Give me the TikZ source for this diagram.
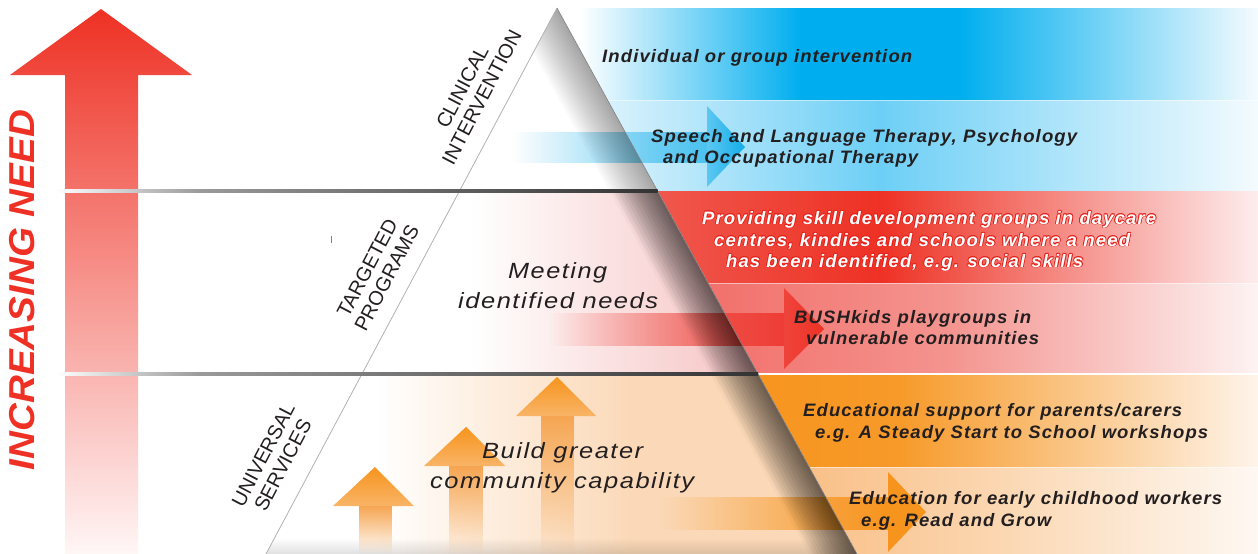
\documentclass[tikz,border=0pt]{standalone}
\usepackage{fontspec}
\setmainfont{Liberation Sans}
\newfontfamily\trk[LetterSpace=6]{Liberation Sans}
\usepackage{graphicx}
\usetikzlibrary{fadings}
\definecolor{txt}{HTML}{231F20}
\definecolor{cyanA}{HTML}{00AEEF}
\definecolor{cyanW}{HTML}{F5FBFE}
\definecolor{cyanP}{HTML}{E3F5FD}
\definecolor{cyanM}{HTML}{6DCFF6}
\definecolor{cyanE}{HTML}{F4FBFE}
\definecolor{cyanS}{HTML}{4CC2F0}
\definecolor{cyanH}{HTML}{5CC7F1}
\definecolor{cyanT}{HTML}{12ADEA}
\definecolor{redA}{HTML}{EE3124}
\definecolor{redO}{HTML}{E4221B}
\definecolor{redL}{HTML}{F05A50}
\definecolor{redW}{HTML}{FDEDED}
\definecolor{pinkA}{HTML}{F26E69}
\definecolor{pinkB}{HTML}{F4948F}
\definecolor{pinkW}{HTML}{FDF3F3}
\definecolor{pinkI}{HTML}{F6C2C2}
\definecolor{redM}{HTML}{F4827D}
\definecolor{redBot}{HTML}{FFF6F6}
\definecolor{redS}{HTML}{EE3D35}
\definecolor{redH}{HTML}{EF443B}
\definecolor{orgA}{HTML}{F7941D}
\definecolor{orgB}{HTML}{F79A2A}
\definecolor{orgW}{HTML}{FEF4EA}
\definecolor{orgL}{HTML}{F9BE84}
\definecolor{orgM}{HTML}{FBD7B2}
\definecolor{orgE}{HTML}{FEF8F2}
\definecolor{orgI}{HTML}{FBD9B8}
\definecolor{orgU}{HTML}{F8B467}
\definecolor{orgS}{HTML}{F6A652}
\definecolor{divA}{HTML}{9A9A9A}
\definecolor{divB}{HTML}{333333}
\definecolor{tick}{HTML}{A08040}
\newcommand\fw[2]{\resizebox{#1pt}{\height}{#2}}
\newcommand\outl[1]{\leavevmode
\rlap{\textcolor{redO}{\hspace*{-.8pt}#1}}%
\rlap{\textcolor{redO}{\hspace*{.8pt}#1}}%
\rlap{\textcolor{redO}{\raisebox{.8pt}{#1}}}%
\rlap{\textcolor{redO}{\raisebox{-.8pt}{#1}}}%
\rlap{\textcolor{redO}{\hspace*{-.6pt}\raisebox{.6pt}{#1}}}%
\rlap{\textcolor{redO}{\hspace*{.6pt}\raisebox{.6pt}{#1}}}%
\rlap{\textcolor{redO}{\hspace*{-.6pt}\raisebox{-.6pt}{#1}}}%
\rlap{\textcolor{redO}{\hspace*{.6pt}\raisebox{-.6pt}{#1}}}%
\textcolor{white}{#1}}
\begin{document}
\begin{tikzpicture}[x=1pt,y=-1pt,
  rt/.style={inner sep=0pt, anchor=base west, text=txt, font=\trk\fontsize{18}{20}\selectfont\bfseries\itshape},
  mt/.style={inner sep=0pt, anchor=base west, text=txt, font=\trk\fontsize{22}{24}\selectfont\itshape},
  tl/.style={inner sep=0pt, rotate=62.4, align=center, text=txt, font=\fontsize{20}{22}\selectfont},
  sep/.style={white, opacity=0.5, line width=0.8pt}]
\useasboundingbox (0,0) rectangle (1258,554);
\clip (0,0) rectangle (1258,554);
\fill[white] (0,0) rectangle (1258,554);
\coordinate (A) at (557,8);
\coordinate (BR) at (857,554);
\coordinate (BL) at (266,554);
% ---- right bands ----
\shade[left color=white, right color=cyanA] (580,8) rectangle (800.5,100);
\fill[cyanA] (800,8) rectangle (960.5,100);
\shade[left color=cyanA, right color=cyanW] (960,8) rectangle (1258,100);
\shade[left color=cyanP, right color=cyanM] (580,100) rectangle (880.5,191);
\shade[left color=cyanM, right color=cyanE] (880,100) rectangle (1258,191);
\shade[left color=redL, right color=redA] (640,191) rectangle (880.5,283);
\shade[left color=redA, right color=redW] (880,191) rectangle (1258,283);
\shade[left color=pinkA, right color=pinkB] (690,283) rectangle (950.5,374);
\shade[left color=pinkB, right color=pinkW] (950,283) rectangle (1258,374);
\shade[left color=orgA, right color=orgB] (740,374) rectangle (900.5,467);
\shade[left color=orgB, right color=orgW] (900,374) rectangle (1258,467);
\shade[left color=orgL, right color=orgM] (790,467) rectangle (1000.5,554);
\shade[left color=orgM, right color=orgE] (1000,467) rectangle (1258,554);
\draw[sep] (580,100) -- (1258,100);
\draw[sep] (700,283) -- (1258,283);
\draw[white, line width=1.2pt] (758,374) -- (1258,374);
\draw[sep] (800,467) -- (1258,467);
% ---- triangle ----
\fill[white] (A) -- (BR) -- (BL) -- cycle;
\begin{scope}
  \clip (A) -- (BR) -- (BL) -- cycle;
  \shade[left color=white, right color=pinkI] (470,191) rectangle (760,374);
  \shade[left color=white, right color=orgI] (375,374) rectangle (630.5,554);
  \fill[orgI] (630,374) rectangle (860,554);
\end{scope}
% ---- horizontal arrows ----
\fill[cyanS, path fading=west] (513,132) rectangle (707.5,163);
\shade[left color=cyanH, right color=cyanT] (707,106) -- (745,147) -- (707,187) -- cycle;
\fill[redS, path fading=west] (550,313) rectangle (784.5,346);
\shade[left color=redH, right color=redA] (784,288) -- (824,329) -- (784,369) -- cycle;
\fill[orgA, path fading=west] (660,497) rectangle (888.5,530);
\fill[orgA] (888,472) -- (926,512) -- (888,552) -- cycle;
% ---- triangle edge shadow ----
\begin{scope}
  \clip (A) -- (BR) -- (BL) -- cycle;
  \foreach \w in {3,6,...,48} {
    \fill[black, opacity=0.025] (557,8) -- (857,554) -- ({857-\w},554) -- ({557-\w},8) -- cycle;
  }
  \clip (0,191) rectangle (1258,554);
  \foreach \w in {4,8,...,44} {
    \fill[black, opacity=0.03] (557,8) -- (857,554) -- ({857-\w},554) -- ({557-\w},8) -- cycle;
  }
  \fill[black, opacity=0.12, path fading=north] (266,538) rectangle (857,554);
\end{scope}
\draw[gray!60, line width=0.8pt] (A) -- (BL);
\draw[black!50, line width=0.6pt] (A) -- (BR);
% ---- upward arrows ----
\shade[top color=orgA, bottom color=orgU] (333,506) -- (375,467) -- (414,506) -- cycle;
\fill[orgS, path fading=south] (359,506) rectangle (392,554);
\shade[top color=orgA, bottom color=orgU] (424,466) -- (466,427) -- (505,466) -- cycle;
\fill[orgS, path fading=south] (449,466) rectangle (483,554);
\shade[top color=orgA, bottom color=orgU] (516,416) -- (557,377) -- (596,416) -- cycle;
\fill[orgS, path fading=south] (541,416) rectangle (574,554);
% ---- big red arrow ----
\shade[top color=redA, middle color=redM, bottom color=redBot]
  (65,554) -- (65,75) -- (10,75) -- (101,9) -- (192,75) -- (138,75) -- (138,554) -- cycle;
% ---- dividers ----
\shade[left color=white, right color=divA] (55,189.8) rectangle (200.5,192.2);
\shade[left color=divA, right color=divB] (200,189.8) rectangle (657.6,192.2);
\shade[left color=white, right color=divA] (55,372.8) rectangle (200.5,375.2);
\shade[left color=divA, right color=divB] (200,372.8) rectangle (758,375.2);
\fill[tick] (330.5,236) rectangle (331.8,243);
% ---- texts ----
\node[rotate=90, inner sep=0pt, text=redA, font=\fontsize{36}{36}\selectfont\bfseries\itshape] (need) at (22,290) {\fw{360}{INCREASING NEED}};
\node[tl] (cl) at (472,92) {CLINICAL\\INTERVENTION};
\node[tl] (tp) at (377,273) {TARGETED\\PROGRAMS};
\node[tl] (us) at (273,460) {UNIVERSAL\\SERVICES};
\node[mt] (m1) at (508,278) {\fw{99}{Meeting}};
\node[mt] (m2) at (458,308) {\fw{200}{identified needs}};
\node[mt] (b1) at (482,458) {\fw{161}{Build greater}};
\node[mt] (b2) at (430,488) {\fw{264}{community capability}};
\node[rt] (t1) at (602,62) {\fw{310}{Individual or group intervention}};
\node[rt] (t2a) at (651,142) {\fw{426}{Speech and Language Therapy, Psychology}};
\node[rt] (t2b) at (663,163) {\fw{255}{and Occupational Therapy}};
\node[rt] (t3a) at (702,224) {\fw{454}{\outl{Providing skill development groups in daycare}}};
\node[rt] (t3b) at (714,246) {\fw{416}{\outl{centres, kindies and schools where a need}}};
\node[rt] (t3c) at (726,267) {\fw{357}{\outl{has been identified, e.g. social skills}}};
\node[rt] (t4a) at (794,323) {\fw{237}{BUSHkids playgroups in}};
\node[rt] (t4b) at (806,344) {\fw{233}{vulnerable communities}};
\node[rt] (t5a) at (803,416) {\fw{379}{Educational support for parents/carers}};
\node[rt] (t5b) at (815,438) {\fw{393}{e.g. A Steady Start to School workshops}};
\node[rt] (t6a) at (849,504) {\fw{373}{Education for early childhood workers}};
\node[rt] (t6b) at (861,526) {\fw{190}{e.g. Read and Grow}};
\end{tikzpicture}
\end{document}
